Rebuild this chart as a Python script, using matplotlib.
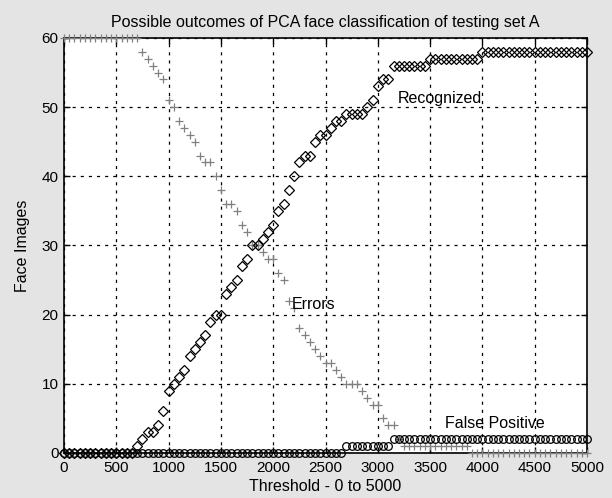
import numpy as np
import matplotlib
matplotlib.use("Agg")
import matplotlib.pyplot as plt

plt.rcParams['font.family'] = ['Liberation Sans', 'DejaVu Sans']

# threshold sweep, 0 to 5000 in steps of 50
threshold = np.arange(0, 5001, 50)

recognized = [0] * 14 + [
    1, 2, 3, 3, 4, 6, 9, 10, 11, 12, 14, 15, 16, 17, 19, 20, 20, 23, 24, 25,
    27, 28, 30, 30, 31, 32, 33, 35, 36, 38, 40, 42, 43, 43, 45, 46, 46, 47, 48, 48,
    49, 49, 49, 49, 50, 51, 53, 54, 54, 56,
] + [56] * 6 + [57] * 10 + [58] * 21

errors = [60] * 15 + [
    58, 57, 56, 55, 54, 51, 50, 48, 47, 46, 45, 43, 42, 42, 40, 38, 36, 36, 35, 33,
    32, 30, 30, 29, 28, 28, 26, 25, 22, 21, 18, 17, 16, 15, 14, 13, 13, 12, 11, 10,
    10, 10, 9, 8, 7, 7, 5, 4, 4, 2,
] + [1] * 13 + [0] * 23

false_pos = [0] * 54 + [1] * 9 + [2] * 38

x_ticks = [0, 500, 1000, 1500, 2000, 2500, 3000, 3500, 4000, 4500, 5000]
y_ticks = [0, 10, 20, 30, 40, 50, 60]

fig = plt.figure(figsize=(6.12, 4.98), dpi=100, facecolor='#e4e4e4')
ax = fig.add_axes([0.1046, 0.0904, 0.8546, 0.8333])
ax.set_facecolor('white')

# errors first, then recognized, then false positives on top
ax.plot(threshold, errors, linestyle='none', marker='+', ms=6, mew=0.9,
        color='#808080', clip_on=False, zorder=3)
ax.plot(threshold, recognized, linestyle='none', marker='D', ms=5.5, mew=0.9,
        mfc='none', mec='black', clip_on=False, zorder=4)
ax.plot(threshold, false_pos, linestyle='none', marker='o', ms=5.5, mew=0.9,
        mfc='none', mec='black', clip_on=False, zorder=5)

ax.text(3190, 51.3, 'Recognized', fontsize=11.5, ha='left', va='center')
ax.text(2180, 21.5, 'Errors', fontsize=11.5, ha='left', va='center')
ax.text(3640, 4.3, 'False Positive', fontsize=11.5, ha='left', va='center')

ax.set_xlim(0, 5000)
ax.set_ylim(0, 60)
ax.set_xticks(x_ticks)
ax.set_yticks(y_ticks)
ax.tick_params(direction='in', length=4, width=1, labelsize=11,
               top=True, right=True, pad=4)
ax.tick_params(axis='x', pad=6)
ax.grid(True, color='black', linestyle=(0, (2.5, 4)), linewidth=0.9)
for s in ax.spines.values():
    s.set_linewidth(1.2)

ax.set_title('Possible outcomes of PCA face classification of testing set A',
             fontsize=11.5, pad=8)
ax.set_xlabel('Threshold - 0 to 5000', fontsize=11.5, labelpad=3)
ax.set_ylabel('Face Images', fontsize=11.5, labelpad=8)

fig.savefig('out.png', dpi=100, facecolor=fig.get_facecolor())
